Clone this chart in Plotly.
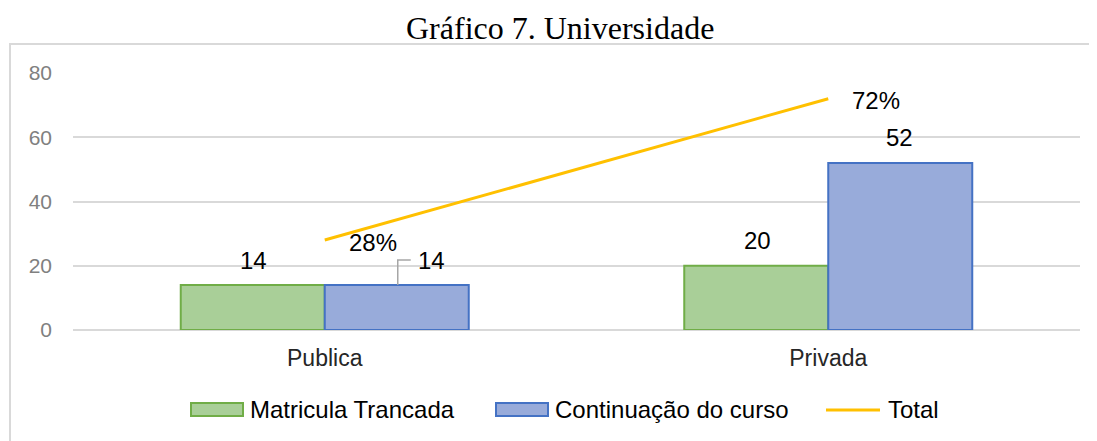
import plotly.graph_objects as go

categories = ["Publica", "Privada"]
matricula_trancada = [14, 20]
continuacao_curso = [14, 52]
total_pct = [28, 72]
total_labels = ["28%", "72%"]
y_ticks = [0, 20, 40, 60, 80]
series_names = ["Matricula Trancada", "Continuação do curso", "Total"]

GREEN_FILL = "#a9cf98"
GREEN_LINE = "#70ad47"
BLUE_FILL = "#98abda"
BLUE_LINE = "#4472c4"
YELLOW = "#ffc000"

# page-pixel -> paper helpers (plot area spans page x 73..1080, y 73..330)
def px(x):
    return (x - 73) / 1007

def py(y):
    return (330 - y) / 257

fig = go.Figure()
fig.add_trace(go.Bar(
    x=categories, y=matricula_trancada, name=series_names[0], showlegend=False,
    marker=dict(color=GREEN_FILL, line=dict(color=GREEN_LINE, width=2)),
))
fig.add_trace(go.Bar(
    x=categories, y=continuacao_curso, name=series_names[1], showlegend=False,
    marker=dict(color=BLUE_FILL, line=dict(color=BLUE_LINE, width=2)),
))
fig.add_trace(go.Scatter(
    x=categories, y=total_pct, name=series_names[2], mode="lines", showlegend=False,
    line=dict(color=YELLOW, width=3),
))

SANS = "Liberation Sans, Arial, sans-serif"
LABEL_FONT = dict(family=SANS, size=24, color="#000000")
annotations = []
for i, cat in enumerate(categories):
    annotations.append(dict(x=cat, y=matricula_trancada[i], xref="x", yref="y",
                            text=str(matricula_trancada[i]), showarrow=False,
                            xshift=-71, yshift=25, font=LABEL_FONT))
    xs = 107 if i == 0 else 71
    annotations.append(dict(x=cat, y=continuacao_curso[i], xref="x", yref="y",
                            text=str(continuacao_curso[i]), showarrow=False,
                            xshift=xs, yshift=25, font=LABEL_FONT))
    annotations.append(dict(x=cat, y=total_pct[i], xref="x", yref="y",
                            text=total_labels[i], showarrow=False,
                            xanchor="left", xshift=22, yshift=-2, font=LABEL_FONT))

# manual legend (wide swatches like the original)
LEG_FONT = dict(family=SANS, size=24, color="#000000")
leg_text_x = [248, 553, 886]
for name, tx in zip(series_names, leg_text_x):
    annotations.append(dict(x=px(tx), y=py(409), xref="paper", yref="paper",
                            text=name, showarrow=False, xanchor="left", yanchor="middle",
                            font=LEG_FONT))

# title, centred on the chart area
annotations.append(dict(x=px(560), y=py(28), xref="paper", yref="paper",
                        text="Gráfico 7. Universidade", showarrow=False,
                        xanchor="center", yanchor="middle",
                        font=dict(family="Liberation Serif, Times New Roman, serif", size=32,
                                  color="#000000")))

shapes = [
    # chart area border (top and left visible)
    dict(type="rect", xref="paper", yref="paper",
         x0=px(10), x1=1.2, y0=-1.0, y1=py(44),
         line=dict(color="#d9d9d9", width=2), fillcolor="rgba(0,0,0,0)", layer="below"),
    # leader line for the first "Continuação do curso" label
    dict(type="path", xref="x", yref="y", xsizemode="pixel", ysizemode="pixel",
         xanchor=0, yanchor=continuacao_curso[0],
         path="M 73,0 L 73,25 L 86,25",
         line=dict(color="#a6a6a6", width=1.5)),
    # legend swatches
    dict(type="rect", xref="paper", yref="paper", x0=px(191), x1=px(243), y0=py(416), y1=py(403),
         fillcolor=GREEN_FILL, line=dict(color=GREEN_LINE, width=2)),
    dict(type="rect", xref="paper", yref="paper", x0=px(496), x1=px(548), y0=py(416), y1=py(403),
         fillcolor=BLUE_FILL, line=dict(color=BLUE_LINE, width=2)),
    dict(type="line", xref="paper", yref="paper", x0=px(826), x1=px(880), y0=py(410), y1=py(410),
         line=dict(color=YELLOW, width=3)),
]

fig.update_layout(
    width=1089, height=433,
    margin=dict(l=65, r=17, t=65, b=111),
    paper_bgcolor="white", plot_bgcolor="white",
    barmode="group", bargap=0.428, bargroupgap=0,
    showlegend=False,
    xaxis=dict(type="category", showgrid=False, showline=False, zeroline=False,
               ticks="", ticklabelstandoff=12,
               tickfont=dict(family=SANS, size=23, color="#262626")),
    yaxis=dict(range=[0, 80], tickvals=y_ticks, showgrid=True, gridcolor="#d9d9d9", gridwidth=2,
               zeroline=True, zerolinecolor="#d9d9d9", zerolinewidth=2, showline=False,
               ticks="", ticklabelstandoff=20,
               tickfont=dict(family=SANS, size=21, color="#808080")),
    annotations=annotations,
    shapes=shapes,
)

fig.write_html("out.html")
